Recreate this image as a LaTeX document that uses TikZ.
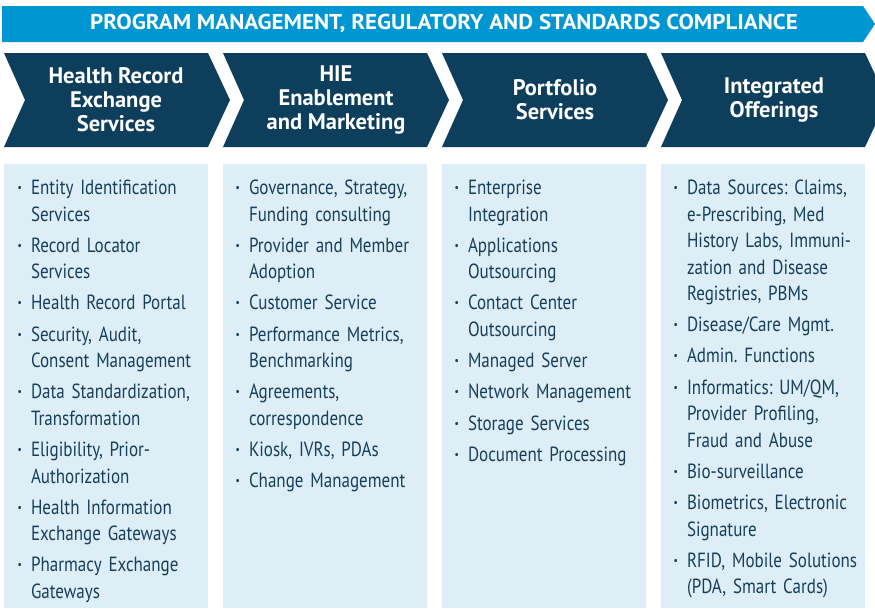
\documentclass[tikz,border=0pt]{standalone}
\usepackage{fontspec}
\setmainfont{PT Sans}[FakeStretch=0.83]
\newfontfamily\titlefont{PT Sans}
\newfontfamily\bannerfont{PT Sans}[FakeStretch=1.07]
\usetikzlibrary{positioning}
\definecolor{bannerblue}{HTML}{0096D1}
\definecolor{navy}{HTML}{0D3E5C}
\definecolor{paleblue}{HTML}{DDEEF7}
\definecolor{itemblue}{HTML}{173F5C}
\newcommand{\bul}{\strut\llap{\bfseries·\hspace{9pt}}}
\frenchspacing

\begin{document}
\begin{tikzpicture}[x=1pt, y=-1pt,
        title/.style={text=white, inner sep=0pt, align=center, font=\titlefont\bfseries\fontsize{22.5}{24}\selectfont},
        item/.style={text=itemblue, inner sep=0pt, outer sep=0pt, text width=185pt, align=left, anchor=north west,
            font=\fontsize{20.5}{26.5}\selectfont\frenchspacing},
        next/.style={below=4.7pt of #1.south west, anchor=north west}]
        \useasboundingbox (0,0) rectangle (875,608);
        \clip (0,0) rectangle (875,608);
        \fill [bannerblue] (2,6) -- (863,6) -- (875,24) -- (863,42) -- (2,42) -- cycle;
        \node [text=white, inner sep=0pt, font=\bannerfont\bfseries\fontsize{21.5}{24}\selectfont] (banner) at (444,23.5) {PROGRAM MANAGEMENT, REGULATORY AND STANDARDS COMPLIANCE};
        \foreach \x in {4, 223, 442, 661} {
            \fill [navy] (\x,53) -- (\x+204,53) -- (\x+226,100) -- (\x+204,147) -- (\x,147) -- (\x+21,100) -- cycle;
            \fill [paleblue] (\x,164) rectangle (\x+204,608);
        }
        \node [title] (t1) at (116,100) {Health Record\\Exchange\\Services};
        \node [title] (t2) at (336,100) {HIE\\Enablement\\and Marketing};
        \node [title] (t3) at (555,100) {Portfolio\\Services};
        \node [title] (t4) at (774,100) {Integrated\\Offerings};

        \node [item] (a1) at (31,176) {\bul Entity Identification\\Services\strut};
        \node [item, next=a1] (a2) {\bul Record Locator\\Services\strut};
        \node [item, next=a2] (a3) {\bul Health Record Portal\strut};
        \node [item, next=a3] (a4) {\bul Security, Audit,\\Consent Management\strut};
        \node [item, next=a4] (a5) {\bul Data Standardization,\\Transformation\strut};
        \node [item, next=a5] (a6) {\bul Eligibility, Prior-\\Authorization\strut};
        \node [item, next=a6] (a7) {\bul Health Information\\Exchange Gateways\strut};
        \node [item, next=a7] (a8) {\bul Pharmacy Exchange\\Gateways\strut};

        \node [item] (b1) at (249,176) {\bul Governance, Strategy,\\Funding consulting\strut};
        \node [item, next=b1] (b2) {\bul Provider and Member\\Adoption\strut};
        \node [item, next=b2] (b3) {\bul Customer Service\strut};
        \node [item, next=b3] (b4) {\bul Performance Metrics,\\Benchmarking\strut};
        \node [item, next=b4] (b5) {\bul Agreements,\\correspondence\strut};
        \node [item, next=b5] (b6) {\bul Kiosk, IVRs, PDAs\strut};
        \node [item, next=b6] (b7) {\bul Change Management\strut};

        \node [item] (c1) at (468,176) {\bul Enterprise\\Integration\strut};
        \node [item, next=c1] (c2) {\bul Applications\\Outsourcing\strut};
        \node [item, next=c2] (c3) {\bul Contact Center\\Outsourcing\strut};
        \node [item, next=c3] (c4) {\bul Managed Server\strut};
        \node [item, next=c4] (c5) {\bul Network Management\strut};
        \node [item, next=c5] (c6) {\bul Storage Services\strut};
        \node [item, next=c6] (c7) {\bul Document Processing\strut};

        \node [item] (d1) at (687,176) {\bul Data Sources: Claims,\\e-Prescribing, Med\\History Labs, Immuni-\\zation and Disease\\Registries, PBMs\strut};
        \node [item, next=d1] (d2) {\bul Disease/Care Mgmt.\strut};
        \node [item, next=d2] (d3) {\bul Admin. Functions\strut};
        \node [item, next=d3] (d4) {\bul Informatics: UM/QM,\\Provider Profiling,\\Fraud and Abuse\strut};
        \node [item, next=d4] (d5) {\bul Bio-surveillance\strut};
        \node [item, next=d5] (d6) {\bul Biometrics, Electronic\\Signature\strut};
        \node [item, next=d6] (d7) {\bul RFID, Mobile Solutions\\(PDA, Smart Cards)\strut};
    \end{tikzpicture}
\end{document}
